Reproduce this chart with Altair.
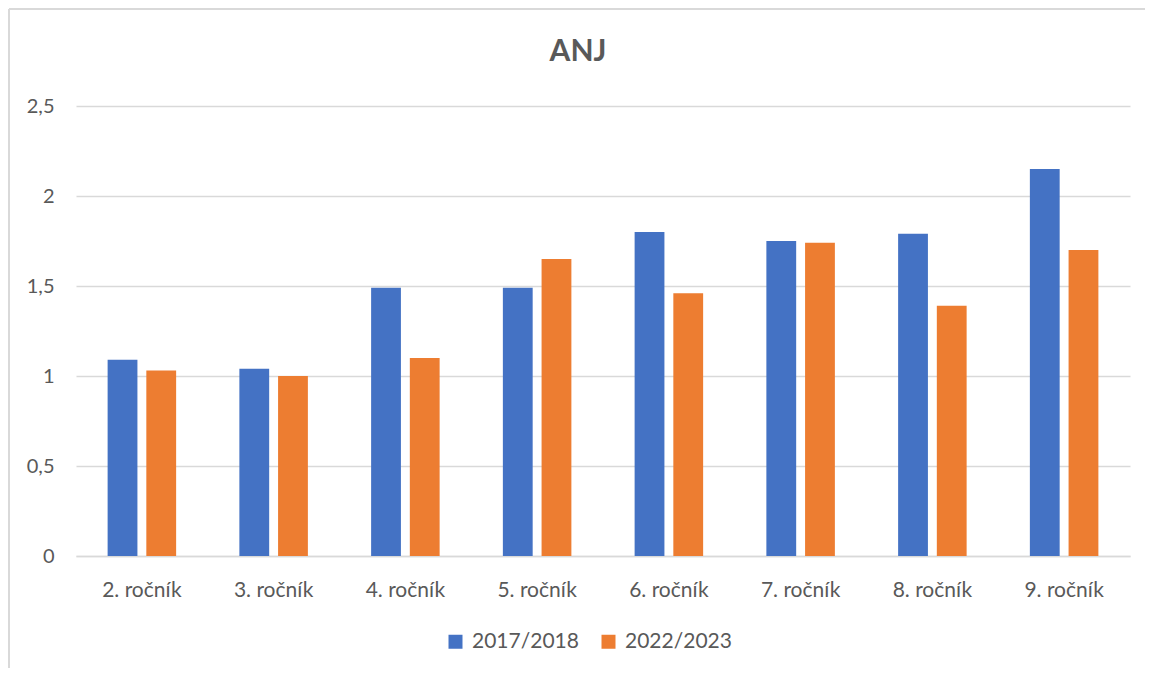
import altair as alt
import pandas as pd

categories = ["2. ročník", "3. ročník", "4. ročník", "5. ročník",
              "6. ročník", "7. ročník", "8. ročník", "9. ročník"]
series_names = ["2017/2018", "2022/2023"]
values_2017 = [1.09, 1.04, 1.49, 1.49, 1.80, 1.75, 1.79, 2.15]
values_2022 = [1.03, 1.00, 1.10, 1.65, 1.46, 1.74, 1.39, 1.70]
y_ticks = [0, 0.5, 1, 1.5, 2, 2.5]
colors = ["#4472C4", "#ED7D31"]

rows = []
for c, a, b in zip(categories, values_2017, values_2022):
    rows.append({"cat": c, "series": series_names[0], "value": a})
    rows.append({"cat": c, "series": series_names[1], "value": b})
df = pd.DataFrame(rows)

TXT = "#595959"
FONT = "Lato"

bars = alt.Chart(df).mark_bar().encode(
    x=alt.X("cat:N", sort=categories,
            scale=alt.Scale(paddingInner=0.48, paddingOuter=0.24),
            axis=alt.Axis(title=None, labelAngle=0, ticks=False, tickSize=0,
                          labelPadding=23, labelFontSize=21, labelColor=TXT,
                          labelFont=FONT, domainColor="#D9D9D9", domainWidth=1.3,
                          grid=False)),
    xOffset=alt.XOffset("series:N", sort=series_names,
                        scale=alt.Scale(paddingInner=0.23, paddingOuter=0)),
    y=alt.Y("value:Q", scale=alt.Scale(domain=[0, 2.5], nice=False),
            axis=alt.Axis(title=None, values=y_ticks, ticks=False, domain=False,
                          labelPadding=22, labelFontSize=20, labelColor=TXT,
                          labelFont=FONT, gridColor="#D9D9D9", gridWidth=1.3,
                          labelExpr="replace(format(datum.value, '~g'), '.', ',')")),
    color=alt.Color("series:N", sort=series_names,
                    scale=alt.Scale(domain=series_names, range=colors),
                    legend=alt.Legend(title=None, orient="none", direction="horizontal",
                                      legendX=369, legendY=525,
                                      symbolType="square", symbolSize=196,
                                      symbolStrokeWidth=0,
                                      labelFontSize=21, labelColor=TXT, labelFont=FONT,
                                      labelOffset=6, columnPadding=19)),
)

border_left = alt.Chart(df).mark_rule(color="#D9D9D9", strokeWidth=2).encode(
    x=alt.value(-67), y=alt.value(-97), y2=alt.value(570)
)
border_top = alt.Chart(df).mark_rule(color="#D9D9D9", strokeWidth=2).encode(
    x=alt.value(-67), x2=alt.value(1070), y=alt.value(-97)
)

chart = alt.layer(bars, border_left, border_top).properties(
    width=1054, height=450,
    title=alt.TitleParams("ANJ", anchor="middle", dx=-25, offset=-59, fontSize=30,
                          fontWeight="bold", color=TXT, font=FONT),
    autosize=alt.AutoSizeParams(type="none"),
    padding={"left": 68, "top": 98, "right": 15, "bottom": 112},
).configure(background="white").configure_view(stroke=None)

chart.save("out.html", embed_options={"renderer": "svg", "actions": False})
